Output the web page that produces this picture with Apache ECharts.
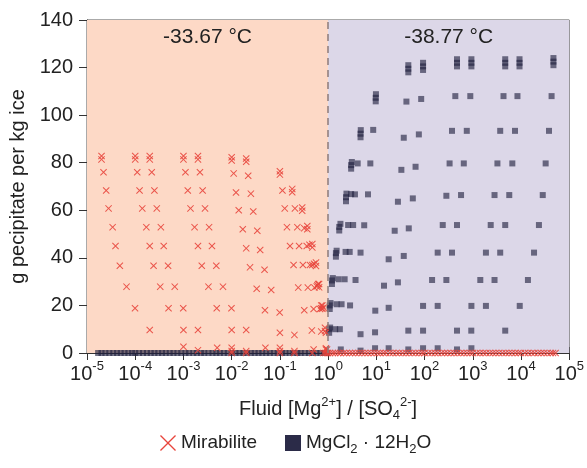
<!DOCTYPE html>
<html>
<head>
<meta charset="utf-8">
<script src="https://cdn.jsdelivr.net/npm/echarts@6/dist/echarts.min.js"></script>
<style>
  html, body { margin: 0; padding: 0; background: #fff; }
  #chart { width: 587px; height: 468px; }
</style>
</head>
<body>
<div id="chart"></div>
<script>
// temperature labels of the two fields
const zoneLabels = ["-33.67 °C", "-38.77 °C"];
const xTicks = [1e-5, 1e-4, 1e-3, 1e-2, 1e-1, 1, 10, 100, 1e3, 1e4, 1e5];
const yTicks = [0, 20, 40, 60, 80, 100, 120, 140];

// Mirabilite tracks [ratio, g/kg ice]
const mirabiliteTracks = [
  [2.0e-5, 81.4], [2.0e-5, 82.8], [2.2e-5, 76], [2.5e-5, 68.3], [2.8e-5, 60.8], [3.4e-5, 52.9], [3.9e-5, 45], [4.8e-5, 36.7], [6.6e-5, 27.9], [9.9e-5, 18.8], [2.0e-4, 9.7], [1.0e-3, 2.6], [2.0e-3, 1.2],
  [1.0e-4, 81.4], [1.0e-4, 82.8], [1.1e-4, 76], [1.23e-4, 68.3], [1.4e-4, 60.8], [1.7e-4, 52.9], [2.0e-4, 45], [2.4e-4, 36.7], [3.3e-4, 27.9], [4.9e-4, 18.8], [1.0e-3, 9.7], [5.0e-3, 2.2], [1.0e-2, 0.8],
  [2.0e-4, 81.4], [2.0e-4, 82.8], [2.2e-4, 76], [2.5e-4, 68.3], [2.8e-4, 60.8], [3.4e-4, 52.9], [3.9e-4, 45], [4.8e-4, 36.7], [6.6e-4, 27.9], [9.9e-4, 18.8], [2.0e-3, 9.7], [1.0e-2, 2.2], [2.0e-2, 0.8],
  [1.0e-3, 81.4], [1.0e-3, 82.8], [1.1e-3, 76], [1.23e-3, 68.3], [1.4e-3, 60.8], [1.7e-3, 52.9], [2.0e-3, 45], [2.4e-3, 36.7], [3.3e-3, 27.9], [4.9e-3, 18.8], [1.0e-2, 9.7], [5.0e-2, 2.2], [0.1, 0.8],
  [2.0e-3, 81.4], [2.0e-3, 82.8], [2.2e-3, 76], [2.5e-3, 68.3], [2.8e-3, 60.8], [3.4e-3, 52.9], [3.9e-3, 45], [4.8e-3, 36.7], [6.6e-3, 27.9], [9.9e-3, 18.8], [2.0e-2, 9.7], [0.1, 2.2], [0.2, 0.8],
  [1.0e-2, 80.9], [1.0e-2, 82.3], [1.1e-2, 75.5], [1.23e-2, 67.5], [1.4e-2, 60], [1.7e-2, 52], [2.0e-2, 44], [2.4e-2, 36], [3.3e-2, 27], [4.9e-2, 18], [0.1, 8.5], [0.5, 1.5],
  [2.0e-2, 80.4], [2.0e-2, 81.8], [2.2e-2, 74.5], [2.5e-2, 67], [2.8e-2, 59.5], [3.4e-2, 51.4], [3.9e-2, 43.3], [4.8e-2, 35], [6.6e-2, 26.5], [9.9e-2, 17], [0.2, 7.6], [0.9, 1.5],
  [0.1, 75], [0.1, 76.4], [0.113, 68.3], [0.126, 60.8], [0.14, 52.9], [0.162, 45], [0.192, 37], [0.24, 27.5], [0.32, 18], [0.46, 9.5], [0.9, 2],
  [0.18, 67.6], [0.18, 69], [0.29, 59.8], [0.29, 61.2], [0.37, 52], [0.37, 53.4], [0.47, 44.4], [0.47, 45.8], [0.56, 36.6], [0.56, 38],
  [0.65, 27.6], [0.65, 29], [0.76, 18.6], [0.76, 20], [0.86, 9.2], [0.86, 10.6], [0.95, 1.5],
  [0.205, 60.8], [0.23, 52.9], [0.25, 45], [0.3, 37], [0.38, 27.5], [0.5, 18.5], [0.72, 9],
  [0.32, 52.5], [0.36, 45], [0.42, 37], [0.52, 27.5], [0.68, 18.5], [0.9, 8.5],
  [0.41, 45.5], [0.47, 37], [0.58, 28], [0.72, 18.8],
  [0.51, 37.5], [0.6, 28.5], [0.8, 19], [0.62, 29], [0.72, 20]
];
// Mirabilite lying on the zero line
const mirabiliteBaseX = [
  0.01, 0.02, 0.1, 0.2, 0.47, 0.8, 0.88, 0.95,
  1.0, 1.1, 1.25, 1.4, 1.6, 1.8, 2.1, 2.4, 2.8, 3.2, 3.7, 4.3, 5, 5.8, 6.7, 7.8, 9, 10.5,
  12, 14, 16, 19, 22, 26, 30, 35, 41, 48, 56, 65, 76, 88, 100, 120, 140, 165, 190, 225,
  260, 300, 350, 410, 480, 560, 650, 760, 880, 1000, 1200, 1400, 1650, 1900, 2250, 2600,
  3000, 3500, 4100, 4800, 5600, 6500, 7600, 8800, 10000, 12000, 14000, 16500, 19000,
  22500, 26000, 30000, 35000, 41000, 46000, 52000
];

// MgCl2·12H2O points [ratio, g/kg ice]
const mgclPoints = [
  [1.05, 8.5], [1.05, 10], [1.1, 10.7], [1.4, 10], [1.75, 10], [4.7, 7.9], [9.4, 8.7], [46, 9.4], [93, 9.4], [470, 9.4], [930, 9.4], [4700, 9.4],
  [1.08, 18.5], [1.08, 20], [1.12, 21], [1.5, 20.5], [1.9, 20.5], [2.85, 20], [9.5, 17.8], [18, 19], [93, 19.8], [187, 19.8], [935, 19.8], [1870, 19.8], [9400, 19.8],
  [1.2, 29], [1.2, 30.5], [1.25, 31.5], [1.65, 31], [2.2, 31], [3.7, 30.7], [14.4, 28.3], [28, 29.7], [143, 30.7], [283, 30.7], [1430, 30.7], [2820, 30.7], [13900, 30.7],
  [1.45, 40.5], [1.45, 42], [1.5, 43], [2.3, 42.5], [2.8, 42.5], [4.7, 42.2], [18, 39.4], [37, 40.8], [187, 42.2], [370, 42.2], [1870, 42.2], [3700, 42.2], [18600, 42.2],
  [1.7, 51.5], [1.7, 53], [1.8, 54.3], [2.6, 53.8], [3.3, 53.8], [5.6, 53.7], [24, 51.4], [47, 52.4], [238, 53.8], [470, 53.8], [2350, 53.8], [4700, 53.8], [23500, 53.8],
  [2.35, 63.8], [2.35, 65.5], [2.4, 67], [3.0, 66.8], [3.6, 66.7], [6.7, 66.7], [28, 63.6], [57, 65], [283, 66.1], [570, 66.4], [2820, 66.4], [5700, 66.4], [28200, 66.4],
  [3.0, 77.5], [3.0, 79], [3.1, 80.3], [4.1, 79.7], [7.5, 79.7], [33, 77], [65, 78.3], [330, 79.7], [650, 79.7], [3240, 79.7], [6600, 79.7], [32400, 79.7],
  [4.7, 90.7], [4.7, 92.2], [4.75, 93.7], [8.6, 93.8], [37, 90.5], [76, 91.9], [370, 93.4], [750, 93.4], [3700, 93.4], [7500, 93.4], [38000, 93.4],
  [9.7, 105.8], [9.7, 107.3], [9.8, 108.8], [42, 105.7], [85, 106.8], [434, 108], [887, 108], [4330, 108], [8430, 108], [43000, 108],
  [46, 118], [46, 119.5], [46, 121], [93, 119], [93, 120.5], [93, 122], [470, 120.5], [470, 122], [470, 123.5],
  [935, 120.5], [935, 122], [935, 123.5], [4700, 120.5], [4700, 122], [4700, 123.5], [9300, 120.5], [9300, 122], [9300, 123.5],
  [47000, 121], [47000, 122.5], [47000, 124],
  [1.83, 1.5], [4.7, 1], [9.4, 2], [18, 2], [46, 1.5], [93, 2], [187, 2], [470, 1.5], [935, 2]
];
// MgCl2·12H2O lying on the zero line
const mgclBaseX = [
  1.7e-5, 2e-5, 2.4e-5, 2.9e-5, 3.5e-5, 4.2e-5, 5e-5, 6e-5, 7.2e-5, 8.6e-5, 1e-4, 1.2e-4,
  1.45e-4, 1.75e-4, 2.1e-4, 2.5e-4, 3e-4, 3.6e-4, 4.3e-4, 5.2e-4, 6.2e-4, 7.5e-4, 9e-4,
  1.1e-3, 1.3e-3, 1.6e-3, 1.9e-3, 2.3e-3, 2.7e-3, 3.3e-3, 4e-3, 4.8e-3, 5.7e-3, 6.9e-3,
  8.3e-3, 1e-2, 1.2e-2, 1.45e-2, 1.75e-2, 2.1e-2, 2.5e-2, 3e-2, 3.6e-2, 4.3e-2, 5.2e-2,
  6.2e-2, 7.5e-2, 9e-2, 0.11, 0.13, 0.16, 0.19, 0.23, 0.27, 0.33, 0.4, 0.48, 0.57, 0.69,
  0.83, 0.95
];

const FONT = "Liberation Sans";
const crossPath = "path://M0,1L1,0L5,4L9,0L10,1L6,5L10,9L9,10L5,6L1,10L0,9L4,5Z";
const crossThin = "path://M0,0.6L0.6,0L5,4.4L9.4,0L10,0.6L5.6,5L10,9.4L9.4,10L5,5.6L0.6,10L0,9.4L4.4,5Z";

const chart = echarts.init(document.getElementById("chart"));

const xBase = {
  type: "log",
  logBase: 10,
  min: xTicks[0],
  max: xTicks[xTicks.length - 1],
  interval: 1,
  position: "bottom",
  splitLine: { show: false },
  minorTick: { show: false }
};
const yBase = {
  type: "value",
  min: yTicks[0],
  max: yTicks[yTicks.length - 1],
  interval: 20,
  position: "left",
  splitLine: { show: false }
};

chart.setOption({
  animation: false,
  textStyle: { fontFamily: FONT },
  grid: {
    left: 87, right: 16, top: 20, bottom: 115,
    show: true, borderColor: "#555", borderWidth: 1
  },
  legend: {
    left: 155, top: 425,
    itemWidth: 16, itemHeight: 16, itemGap: 28,
    textStyle: {
      fontFamily: FONT, fontSize: 19, color: "#222", lineHeight: 26,
      rich: { sub: { fontFamily: FONT, fontSize: 13, lineHeight: 13, verticalAlign: "bottom", color: "#222" } }
    },
    formatter: function (name) {
      return name === "MgCl2" ? "MgCl{sub|2} · 12H{sub|2}O" : name;
    },
    data: [
      { name: "Mirabilite", icon: crossThin, itemStyle: { color: "#e8453c", opacity: 1 } },
      { name: "MgCl2", icon: "rect", itemStyle: { color: "#2b2b48", opacity: 1 } }
    ]
  },
  xAxis: [
    Object.assign({}, xBase, {
      name: "Fluid [Mg{sup|2+}] / [SO{sub|4}{sup|2-}]",
      nameLocation: "middle",
      nameGap: 43,
      nameTextStyle: {
        fontFamily: FONT, fontSize: 20, color: "#222", lineHeight: 26,
        rich: {
          sup: { fontFamily: FONT, fontSize: 13, lineHeight: 13, verticalAlign: "top", color: "#222" },
          sub: { fontFamily: FONT, fontSize: 13, lineHeight: 13, verticalAlign: "bottom", color: "#222" }
        }
      },
      axisLine: { onZero: false, lineStyle: { color: "#333", width: 1 } },
      axisTick: { inside: false, length: 7, lineStyle: { color: "#333" } },
      axisLabel: {
        margin: 7,
        formatter: function (v) {
          return "{b|10}{sup|" + Math.round(Math.log10(v)) + "}";
        },
        rich: {
          b: { fontFamily: FONT, fontSize: 20, lineHeight: 24, verticalAlign: "bottom", color: "#222" },
          sup: { fontFamily: FONT, fontSize: 13, lineHeight: 13, verticalAlign: "top", color: "#222" }
        }
      }
    }),
    Object.assign({}, xBase, {
      axisLine: { show: false, onZero: false },
      axisTick: { inside: true, length: 6, lineStyle: { color: "#333" } },
      axisLabel: { show: false }
    })
  ],
  yAxis: [
    Object.assign({}, yBase, {
      name: "g pecipitate per kg ice",
      nameLocation: "middle",
      nameGap: 55,
      nameTextStyle: { fontFamily: FONT, fontSize: 20, color: "#222" },
      axisLine: { show: true, onZero: false, lineStyle: { color: "#333", width: 1 } },
      axisTick: { inside: false, length: 8, lineStyle: { color: "#333" } },
      axisLabel: { fontFamily: FONT, fontSize: 20, color: "#222", margin: 14 }
    }),
    Object.assign({}, yBase, {
      axisLine: { show: false, onZero: false },
      axisTick: { inside: true, length: 6, lineStyle: { color: "#333" } },
      axisLabel: { show: false }
    })
  ],
  series: [
    {
      name: "zones",
      type: "scatter",
      data: [],
      z: 1,
      silent: true,
      markArea: {
        silent: true,
        label: {
          show: true, position: "insideTop", distance: 7,
          fontFamily: FONT, fontSize: 21, color: "#222"
        },
        data: [
          [{ name: zoneLabels[0], xAxis: xTicks[0], yAxis: 0, itemStyle: { color: "#fdd9c6", opacity: 1 } },
           { xAxis: 1, yAxis: 140 }],
          [{ name: zoneLabels[1], xAxis: 1, yAxis: 0, itemStyle: { color: "#dcd7e8", opacity: 1 } },
           { xAxis: xTicks[xTicks.length - 1], yAxis: 140 }]
        ]
      },
      markLine: {
        silent: true,
        symbol: "none",
        label: { show: false },
        lineStyle: { color: "#8c7b7b", type: [7, 5], width: 1.5 },
        data: [{ xAxis: 1 }]
      }
    },
    {
      name: "MgCl2",
      type: "scatter",
      z: 3,
      symbol: "rect",
      symbolSize: 6,
      itemStyle: { color: "#1f1f3d", opacity: 0.62 },
      data: mgclPoints.concat(mgclBaseX.map(function (x) { return [x, 0]; }))
    },
    {
      name: "Mirabilite",
      type: "scatter",
      z: 4,
      symbol: crossPath,
      symbolSize: 7,
      itemStyle: { color: "#e8453c", opacity: 0.9 },
      data: mirabiliteTracks.concat(mirabiliteBaseX.map(function (x) { return [x, 0]; }))
    }
  ]
});
</script>
</body>
</html>
